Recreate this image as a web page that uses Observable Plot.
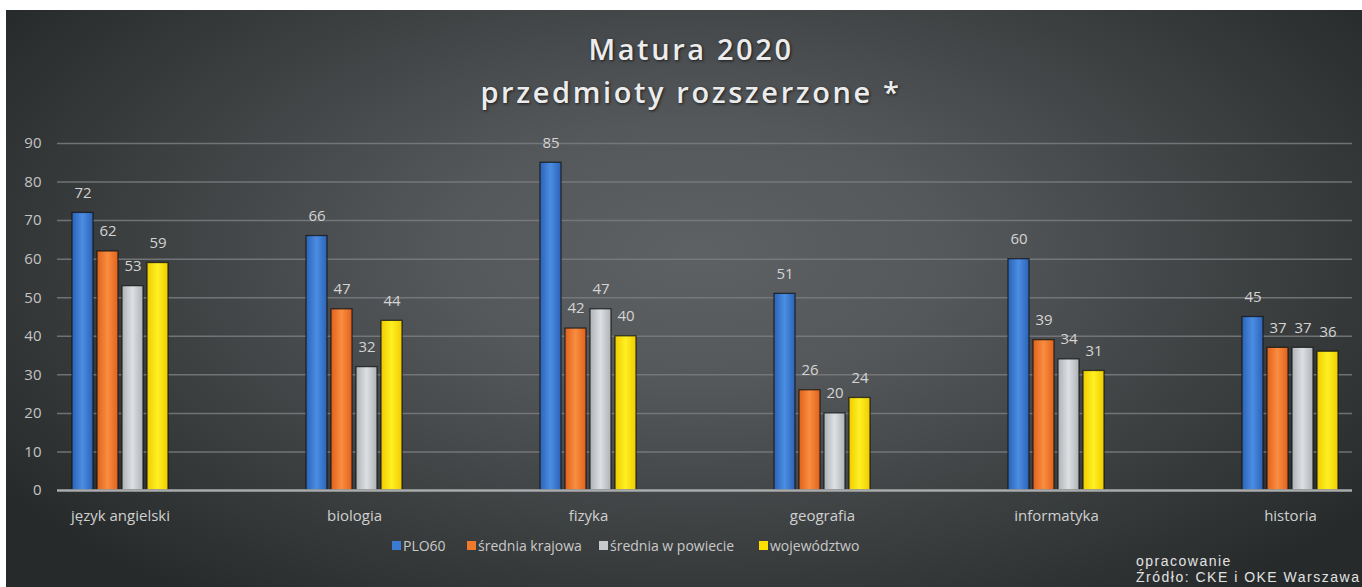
<!DOCTYPE html>
<html>
<head>
<meta charset="utf-8">
<script src="https://cdn.jsdelivr.net/npm/d3@7"></script>
<script src="https://cdn.jsdelivr.net/npm/@observablehq/plot@0.6"></script>
<style>
  html, body { margin: 0; padding: 0; background: #ffffff; width: 1362px; height: 587px; overflow: hidden; }
  #frame { position: absolute; left: 6px; top: 10px; width: 1356px; height: 577px;
    background: radial-gradient(ellipse 62% 75% at 51% 42%, #5e6164 0%, #55585b 30%, #3e4142 65%, #272a2a 100%); }
  #title { position: absolute; left: 0; top: 27px; width: 1382px; text-align: center;
    font-family: "Open Sans", sans-serif; font-weight: 600; font-size: 29px; line-height: 43px;
    color: #ececec; letter-spacing: 2.6px; text-shadow: 1px 1px 3px rgba(0,0,0,0.7); }
  .layer { position: absolute; left: 0; top: 125px; }
  #legend { position: absolute; top: 536px; left: 0; width: 1362px; font-family: "Open Sans", sans-serif;
    font-size: 14px; color: #c9c9c9; }
  .li { position: absolute; display: flex; align-items: center; white-space: nowrap; }
  .sw { width: 9px; height: 9px; margin-right: 2px; }
  .src { position: absolute; left: 1136px; font-family: "Liberation Sans", sans-serif; font-size: 14px;
    line-height: 16px; color: #e2e2e2; white-space: nowrap; letter-spacing: 1.5px; }
</style>
</head>
<body>
<div id="frame"></div>
<div id="title">Matura 2020<br>przedmioty rozszerzone *</div>
<div id="grid" class="layer"></div>
<div id="chart" class="layer"></div>
<div id="base" class="layer"></div>
<div id="legend"></div>
<div class="src" style="top:553px">opracowanie</div>
<div class="src" style="top:569px">Źródło: CKE i OKE Warszawa</div>
<script>
const categories = ["język angielski", "biologia", "fizyka", "geografia", "informatyka", "historia"];
const seriesNames = ["PLO60", "średnia krajowa", "średnia w powiecie", "województwo"];
const plo60 = [72, 66, 85, 51, 60, 45];
const sredniaKrajowa = [62, 47, 42, 26, 39, 37];
const sredniaPowiat = [53, 32, 47, 20, 34, 37];
const wojewodztwo = [59, 44, 40, 24, 31, 36];
const yTicks = [0, 10, 20, 30, 40, 50, 60, 70, 80, 90];
const swatchColors = ["#3b7bd4", "#f07a2c", "#c6cacd", "#fde000"];

const seriesValues = [plo60, sredniaKrajowa, sredniaPowiat, wojewodztwo];
const data = [];
categories.forEach((c, i) => seriesNames.forEach((s, j) => data.push({category: c, series: s, value: seriesValues[j][i]})));

const gradIds = ["gBlue", "gOrange", "gGray", "gYellow"];
const gradStops = [
  ["#2c63b6", "#4b8de3", "#2c63b6"],
  ["#e0621c", "#f98d40", "#e0621c"],
  ["#aeb2b6", "#dde0e3", "#aeb2b6"],
  ["#efcc00", "#fff023", "#efcc00"]
];

const common = {
  width: 1362,
  height: 405,
  marginTop: 18,
  marginBottom: 40,
  marginLeft: 57,
  marginRight: 10,
  style: {background: "transparent", fontFamily: "Open Sans, sans-serif", fontSize: "15px", color: "#c9c9c9"},
  y: {domain: [0, 90], ticks: yTicks, label: null}
};

// background layer: gridlines + y axis across the full width
const gridPlot = Plot.plot({
  ...common,
  marks: [
    Plot.ruleY(yTicks.filter(t => t > 0), {stroke: "#7a7d80", strokeOpacity: 0.85, strokeWidth: 1.5}),
    Plot.axisY({ticks: yTicks, tickSize: 0, tickPadding: 16, fill: "#c4c4c4", fontSize: 15, label: null})
  ]
});
document.getElementById("grid").appendChild(gridPlot);

// bars layer
const chart = Plot.plot({
  ...common,
  fx: {domain: categories, paddingInner: 0.583, paddingOuter: 0.047, label: null},
  x: {domain: seriesNames, paddingInner: 0.18, paddingOuter: 0, axis: null},
  color: {domain: seriesNames, range: gradIds.map(id => `url(#${id})`)},
  marks: [
    () => {
      const svg = d3.create("svg:defs");
      gradIds.forEach((id, k) => {
        const g = svg.append("linearGradient").attr("id", id).attr("x1", "0").attr("x2", "1").attr("y1", "0").attr("y2", "0");
        g.append("stop").attr("offset", "0%").attr("stop-color", gradStops[k][0]);
        g.append("stop").attr("offset", "50%").attr("stop-color", gradStops[k][1]);
        g.append("stop").attr("offset", "100%").attr("stop-color", gradStops[k][2]);
      });
      return svg.node();
    },
    Plot.axisY({ticks: [], label: null}),
    Plot.axisFx({tickSize: 0, tickPadding: 20, fill: "#d0d0d0", fontSize: 15, label: null, anchor: "bottom"}),
    Plot.barY(data, {fx: "category", x: "series", y: "value", fill: "series", stroke: "#111", strokeWidth: 1.3, strokeOpacity: 0.75}),
    Plot.text(data, {fx: "category", x: "series", y: "value", text: d => String(d.value), dy: -20, fill: "#d4d4d4", fontSize: 15})
  ]
});
document.getElementById("chart").appendChild(chart);

// front layer: zero baseline across full width
const basePlot = Plot.plot({
  ...common,
  marks: [
    Plot.ruleY([0], {stroke: "#a9abad", strokeWidth: 2.5}),
    Plot.axisY({ticks: [], label: null})
  ]
});
document.getElementById("base").appendChild(basePlot);

// legend
const legend = document.getElementById("legend");
const legendX = [392, 467, 599, 759];
seriesNames.forEach((s, i) => {
  const el = document.createElement("div");
  el.className = "li";
  el.style.left = legendX[i] + "px";
  el.innerHTML = `<span class="sw" style="background:${swatchColors[i]}"></span><span>${s}</span>`;
  legend.appendChild(el);
});
</script>
</body>
</html>
